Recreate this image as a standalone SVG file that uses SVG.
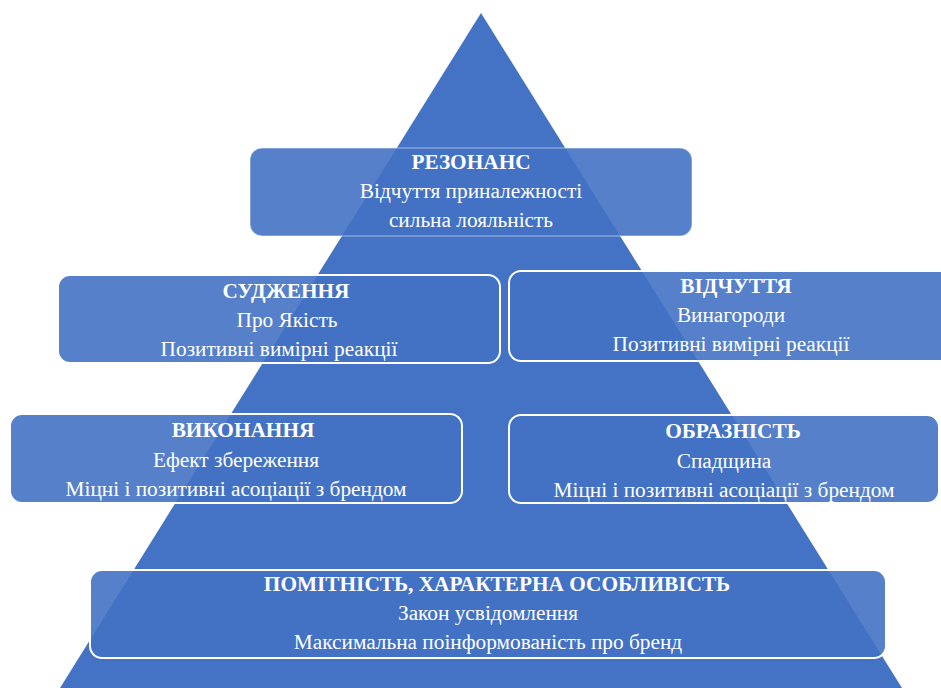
<svg xmlns="http://www.w3.org/2000/svg" width="941" height="688" viewBox="0 0 941 688">
<style>
.box{fill:#4472C4;fill-opacity:0.9;stroke:#ffffff;stroke-width:2}
.t{font-family:"Liberation Serif","Times New Roman",serif;font-size:21.3px;fill:#ffffff;text-anchor:middle}
.b{font-weight:bold}
</style>
<rect width="941" height="688" fill="#ffffff"/>
<g id="pyramid"><polygon points="481,13 60,688 902,688" fill="#4472C4"/></g>
<g id="connectors"></g>
<g id="n-rezonans">
<rect class="box" x="250" y="148" width="442" height="88" rx="12" style="stroke-opacity:0.35;stroke-width:1.5"/>
<text class="t b" x="471" y="169">РЕЗОНАНС</text>
<text class="t" x="471" y="198">Відчуття приналежності</text>
<text class="t" x="471" y="227">сильна лояльність</text>
</g>
<g id="n-sudzhennia">
<rect class="box" x="58" y="275" width="442" height="88" rx="12"/>
<text class="t b" x="286" y="298">СУДЖЕННЯ</text>
<text class="t" x="287" y="327">Про Якість</text>
<text class="t" x="279" y="356">Позитивні вимірні реакції</text>
</g>
<g id="n-vidchuttia">
<rect class="box" x="509" y="271" width="445" height="90" rx="12"/>
<text class="t b" x="736" y="293">ВІДЧУТТЯ</text>
<text class="t" x="731" y="322">Винагороди</text>
<text class="t" x="731" y="351">Позитивні вимірні реакції</text>
</g>
<g id="n-vykonannia">
<rect class="box" x="10" y="414" width="452" height="89" rx="12"/>
<text class="t b" x="243" y="437">ВИКОНАННЯ</text>
<text class="t" x="236" y="467">Ефект збереження</text>
<text class="t" x="236" y="496">Міцні і позитивні асоціації з брендом</text>
</g>
<g id="n-obraznist">
<rect class="box" x="509" y="415" width="430" height="88" rx="12"/>
<text class="t b" x="733" y="438">ОБРАЗНІСТЬ</text>
<text class="t" x="724" y="468">Спадщина</text>
<text class="t" x="724" y="497">Міцні і позитивні асоціації з брендом</text>
</g>
<g id="n-pomitnist">
<rect class="box" x="90" y="570" width="796" height="88" rx="12"/>
<text class="t b" x="497" y="591">ПОМІТНІСТЬ, ХАРАКТЕРНА ОСОБЛИВІСТЬ</text>
<text class="t" x="488" y="620">Закон усвідомлення</text>
<text class="t" x="488" y="649">Максимальна поінформованість про бренд</text>
</g>
</svg>
